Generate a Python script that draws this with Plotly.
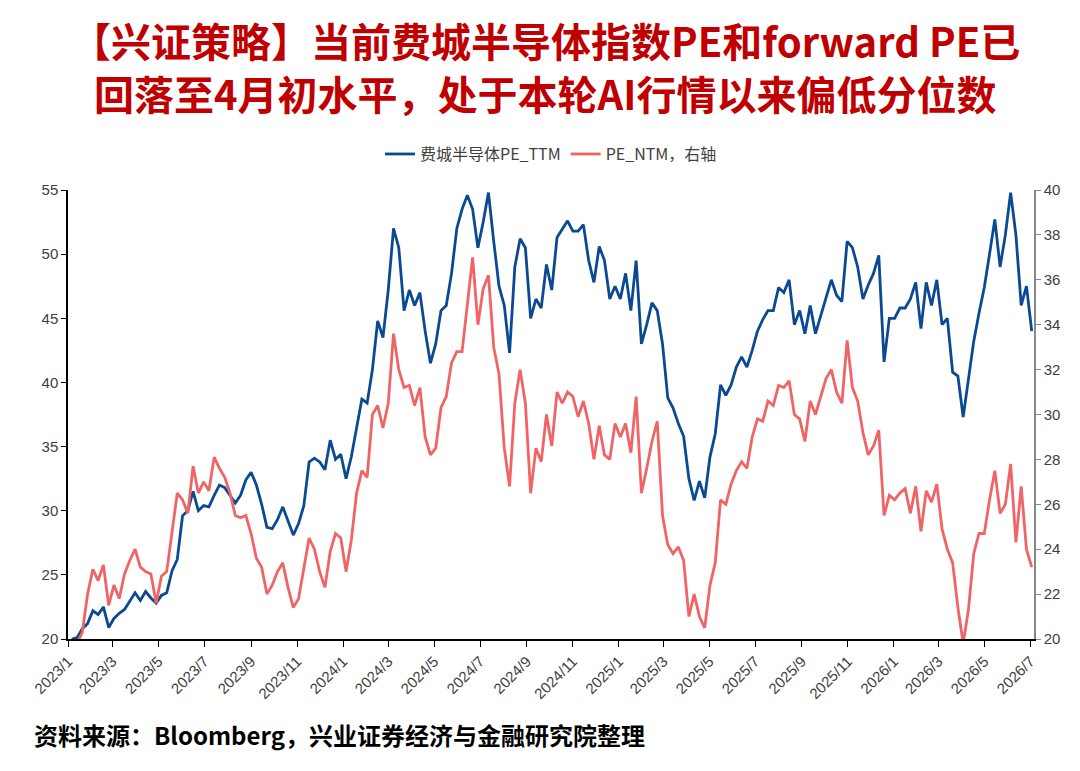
import pandas as pd
import plotly.graph_objects as go

# weekly (Friday) observations, 2023-01-06 .. 2026-07-03
dates = pd.date_range("2023-01-06", "2026-07-03", freq="W-FRI")

pe_ttm = [
    20.0, 20.1, 20.8, 21.2, 22.2, 21.9, 22.5, 20.9, 21.6, 22.0,
    22.3, 22.9, 23.6, 23.0, 23.7, 23.2, 22.8, 23.4, 23.6, 25.3,
    26.2, 29.6, 30.0, 31.5, 30.0, 30.4, 30.3, 31.2, 32.0, 31.8,
    31.2, 30.6, 31.2, 32.4, 33.0, 32.0, 30.5, 28.7, 28.6, 29.3,
    30.3, 29.2, 28.1, 29.0, 30.4, 33.8, 34.1, 33.8, 33.2, 35.5,
    34.0, 34.4, 32.5, 34.2, 36.5, 38.7, 38.4, 41.0, 44.8, 43.5,
    47.2, 52.0, 50.5, 45.6, 47.2, 46.0, 47.0, 44.0, 41.5, 43.0,
    45.6, 46.0, 48.5, 52.0, 53.5, 54.6, 53.5, 50.5, 52.5, 54.8,
    51.0, 47.5, 46.0, 42.3, 49.0, 51.2, 50.5, 45.0, 46.5, 45.8,
    49.2, 47.2, 51.3, 52.0, 52.6, 51.8, 51.8, 52.3, 49.5, 47.8,
    50.6, 49.5, 46.5, 47.5, 46.5, 48.5, 45.6, 49.5, 43.0, 44.5,
    46.2, 45.6, 43.0, 38.8, 38.0, 36.8, 35.8, 32.5, 30.8, 32.3,
    31.0, 34.2, 36.0, 39.8, 39.0, 39.8, 41.2, 42.0, 41.2, 42.5,
    44.0, 44.9, 45.6, 45.6, 47.4, 47.0, 48.0, 44.5, 45.6, 43.8,
    46.0, 43.8, 45.2, 46.8, 48.0, 46.8, 46.3, 51.0, 50.5, 49.0,
    46.5, 47.6, 48.5, 49.9, 41.6, 45.0, 45.0, 45.8, 45.8, 46.5,
    47.8, 44.2, 47.8, 46.0, 48.0, 44.5, 45.0, 40.8, 40.5, 37.3,
    40.4, 43.2, 45.4, 47.4, 50.0, 52.7, 49.0, 51.5, 54.8, 51.5,
    46.0, 47.5, 44.0,
]

pe_ntm = [
    19.5, 19.8, 20.3, 22.0, 23.1, 22.6, 23.3, 21.5, 22.4, 21.8,
    22.9, 23.5, 24.0, 23.2, 23.0, 22.9, 21.6, 22.8, 23.0, 24.8,
    26.5, 26.2, 25.6, 27.7, 26.5, 27.0, 26.6, 28.1, 27.6, 27.2,
    26.5, 25.5, 25.4, 25.5, 24.7, 23.6, 23.2, 22.0, 22.4, 23.0,
    23.4, 22.3, 21.4, 21.8, 23.2, 24.5, 24.0, 23.0, 22.3, 23.9,
    24.7, 24.5, 23.0, 24.4, 26.5, 27.5, 27.2, 30.0, 30.4, 29.4,
    30.5, 33.6, 32.0, 31.2, 31.3, 30.4, 31.2, 29.0, 28.2, 28.5,
    30.3, 30.8, 32.3, 32.8, 32.8, 35.0, 37.0, 34.0, 35.6, 36.2,
    33.0, 31.8, 28.5, 26.8, 30.5, 32.0, 30.5, 26.5, 28.5, 27.9,
    30.0, 28.6, 31.0, 30.5, 31.0, 30.8, 29.9, 30.6, 29.6, 28.0,
    29.5, 28.2, 28.0, 29.6, 29.0, 29.6, 28.3, 30.8, 26.5, 27.6,
    28.8, 29.7, 25.5, 24.2, 23.8, 24.1, 23.5, 21.0, 22.0, 21.0,
    20.5, 22.4, 23.4, 26.2, 26.0, 26.9, 27.5, 27.9, 27.6, 29.0,
    29.8, 29.7, 30.6, 30.4, 31.3, 31.2, 31.5, 30.0, 29.8, 28.8,
    30.6, 30.0, 30.8, 31.6, 32.0, 31.0, 30.5, 33.3, 31.2, 30.6,
    29.2, 28.2, 28.6, 29.3, 25.5, 26.4, 26.2, 26.5, 26.7, 25.6,
    26.8, 24.8, 26.6, 26.1, 26.9, 24.9, 24.0, 23.4, 21.4, 19.8,
    21.3, 23.8, 24.7, 24.7, 26.2, 27.5, 25.6, 26.0, 27.8, 24.3,
    26.8, 24.0, 23.2,
]

blue = "#0b4a93"
red = "#f06466"
cjk = "Noto Sans CJK SC, sans-serif"
tick_font = dict(family="Liberation Sans, Arial, sans-serif", size=15, color="#404040")

fig = go.Figure()
fig.add_trace(go.Scatter(
    x=dates, y=pe_ttm, mode="lines", name="费城半导体PE_TTM",
    line=dict(color=blue, width=2.8),
))
fig.add_trace(go.Scatter(
    x=dates, y=pe_ntm, mode="lines", name="PE_NTM，右轴", yaxis="y2",
    line=dict(color=red, width=2.8),
))

fig.update_layout(
    width=1080, height=771,
    paper_bgcolor="white", plot_bgcolor="white",
    margin=dict(l=60, r=54, t=182, b=140),
    font=dict(family=cjk),
    showlegend=True,
    legend=dict(
        orientation="h", x=0.5, xanchor="center", y=1.08, yanchor="middle",
        font=dict(family=cjk, size=16, color="#404040"),
    ),
    xaxis=dict(
        type="date", range=["2023-01-01", "2026-07-06"],
        tick0="2023-01-01", dtick="M2", tickformat="%Y/%-m",
        tickangle=-45, tickfont=tick_font,
        showline=True, linecolor="black", linewidth=1.5,
        ticks="outside", ticklen=6, tickcolor="black",
        showgrid=False, zeroline=False,
    ),
    yaxis=dict(
        range=[20, 55], dtick=5, tickfont=tick_font,
        showline=True, linecolor="black", linewidth=1.5,
        ticks="outside", ticklen=5, tickcolor="black",
        showgrid=False, zeroline=False,
    ),
    yaxis2=dict(
        range=[20, 40], dtick=2, overlaying="y", side="right",
        tickfont=tick_font,
        showline=True, linecolor="#888888", linewidth=1.5,
        ticks="outside", ticklen=5, tickcolor="#888888",
        showgrid=False, zeroline=False,
    ),
)

# two-line red title, one annotation per line
title_lines = [
    "【兴证策略】当前费城半导体指数PE和forward PE已",
    "回落至4月初水平，处于本轮AI行情以来偏低分位数",
]
for line, shift in zip(title_lines, [150, 97]):
    fig.add_annotation(
        text="<b>" + line + "</b>",
        xref="paper", yref="paper", x=0.5, y=1.0, xanchor="center", yanchor="middle",
        xshift=-6, yshift=shift, showarrow=False,
        font=dict(family=cjk, size=40, color="#c00000"),
    )

fig.add_annotation(
    text="<b>资料来源：Bloomberg，兴业证券经济与金融研究院整理</b>",
    xref="paper", yref="paper", x=0, y=0, xanchor="left", yanchor="middle",
    xshift=-36, yshift=-95, showarrow=False, align="left",
    font=dict(family=cjk, size=24, color="black"),
)

fig.write_html("out.html")
